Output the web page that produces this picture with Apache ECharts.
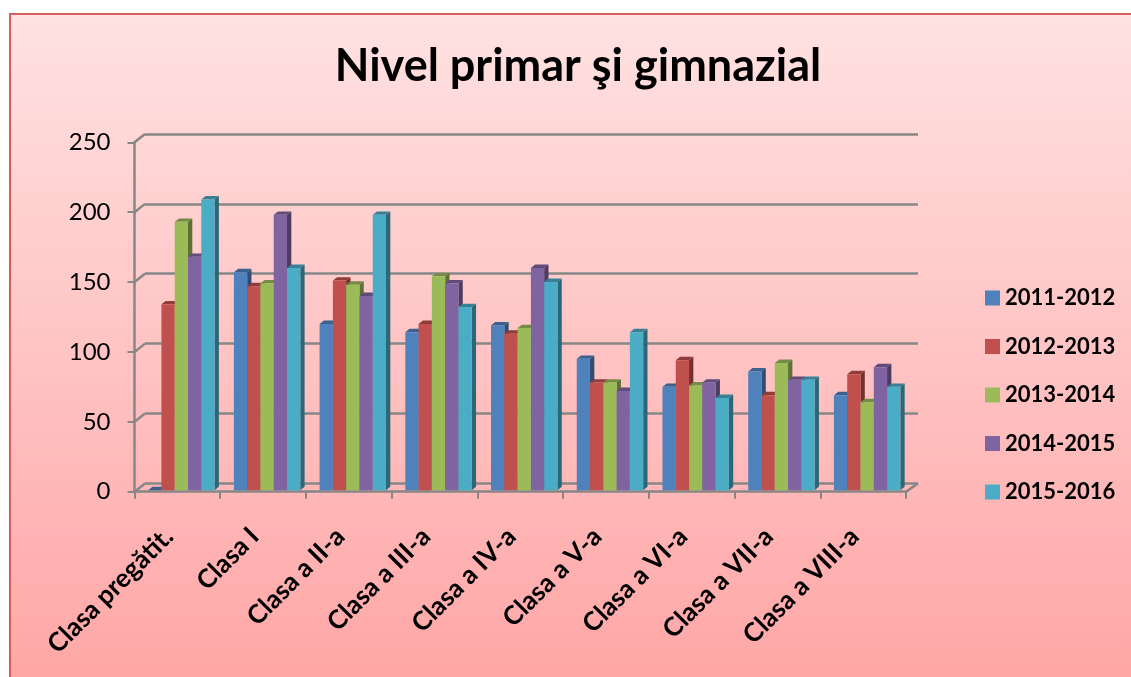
<!DOCTYPE html>
<html>
<head>
<meta charset="utf-8">
<script src="https://cdn.jsdelivr.net/npm/echarts@6/dist/echarts.min.js"></script>
<style>
html,body{margin:0;padding:0;background:#ffffff;}
#c{width:1131px;height:677px;}
</style>
</head>
<body>
<div id="c"></div>
<script>
const categories = ['Clasa pregătit.', 'Clasa I', 'Clasa a II-a', 'Clasa a III-a', 'Clasa a IV-a', 'Clasa a V-a', 'Clasa a VI-a', 'Clasa a VII-a', 'Clasa a VIII-a'];
const seriesNames = ['2011-2012', '2012-2013', '2013-2014', '2014-2015', '2015-2016'];
const s2011 = [0, 156, 119, 113, 118, 94, 74, 85, 68];
const s2012 = [133, 146, 150, 119, 112, 77, 93, 68, 83];
const s2013 = [192, 148, 147, 153, 116, 77, 75, 91, 63];
const s2014 = [167, 197, 139, 148, 159, 71, 77, 79, 88];
const s2015 = [208, 159, 197, 131, 149, 113, 66, 79, 74];
const seriesValues = [s2011, s2012, s2013, s2014, s2015];
const yTicks = [0, 50, 100, 150, 200, 250];
const colors = ['#4F81BD', '#C0504D', '#9BBB59', '#8064A2', '#4BACC6'];

function darken(hex, f) {
  const n = parseInt(hex.slice(1), 16);
  const r = Math.round(((n >> 16) & 255) * f);
  const g = Math.round(((n >> 8) & 255) * f);
  const b = Math.round((n & 255) * f);
  return 'rgb(' + r + ',' + g + ',' + b + ')';
}

const chart = echarts.init(document.getElementById('c'), null, {renderer: 'canvas'});

const GRID_LINE = '#878787';
const DX = 4.3, DY = -3.4;   // bar depth
const WDX = 10.5, WDY = -8.3; // wall depth

function barSeries(k) {
  return {
    type: 'custom',
    name: seriesNames[k],
    xAxisIndex: 0, yAxisIndex: 0,
    itemStyle: {color: colors[k]},
    data: seriesValues[k].map((v, i) => [i, v]),
    encode: {x: 0, y: 1},
    z: 10,
    renderItem: function (params, api) {
      const i = api.value(0), v = api.value(1);
      const base = api.coord([i, 0]);
      const top = api.coord([i, v]);
      const catW = api.size([1, 0])[0];
      const bw = catW * 0.155;
      const x = base[0] - 2.5 * bw + 4 + k * bw;
      const yb = base[1] - 1.5;
      const yt = top[1] - 1.5;
      const c = colors[k];
      const topC = darken(c, 0.75);
      const sideC = darken(c, 0.6);
      return {
        type: 'group',
        children: [
          {type: 'polygon', shape: {points: [[x + bw, yt], [x + bw + DX, yt + DY], [x + bw + DX, yb + DY], [x + bw, yb]]},
           style: {fill: sideC}},
          {type: 'polygon', shape: {points: [[x, yt], [x + bw, yt], [x + bw + DX, yt + DY], [x + DX, yt + DY]]},
           style: {fill: topC}},
          {type: 'rect', shape: {x: x, y: yt, width: bw, height: yb - yt},
           style: {fill: c}}
        ]
      };
    }
  };
}

const option = {
  backgroundColor: 'transparent',
  animation: false,
  graphic: [
    {type: 'rect', z: -10, silent: true,
     shape: {x: 10, y: 14, width: 1140, height: 700},
     style: {
       fill: new echarts.graphic.LinearGradient(0, 0, 0, 1, [
         {offset: 0, color: '#FFE2E2'},
         {offset: 1, color: '#FFA3A3'}
       ]),
       stroke: '#D45F5B', lineWidth: 2
     }},
    {type: 'text', z: 20, x: 578, y: 66,
     style: {text: 'Nivel primar şi gimnazial', font: 'bold 45px Lato', fill: '#000', textAlign: 'center', textVerticalAlign: 'middle'}}
  ],
  legend: {
    orient: 'vertical',
    left: 980, top: 282,
    itemWidth: 15, itemHeight: 15,
    itemGap: 26.5,
    itemTextGap: 7,
    icon: 'rect',
    data: seriesNames,
    textStyle: {fontFamily: 'Lato', fontWeight: 'bold', fontSize: 22, color: '#000', lineHeight: 22}
  },
  grid: [
    {left: 134.5, right: 225, top: 142.3, bottom: 185.3},
    {left: 145, right: 213, top: 134, bottom: 193.7}
  ],
  xAxis: [
    {type: 'category', gridIndex: 0, data: categories, boundaryGap: true,
     axisLine: {show: true, lineStyle: {color: GRID_LINE, width: 2.5}},
     axisTick: {show: true, length: 7, lineStyle: {color: GRID_LINE, width: 2}},
     axisLabel: {rotate: 45, margin: 32, padding: [0, 12, 0, 0], fontFamily: 'Lato', fontWeight: 'bold', fontSize: 26, color: '#000', interval: 0},
     splitLine: {show: false}},
    {type: 'category', gridIndex: 1, data: categories, show: false}
  ],
  yAxis: [
    {type: 'value', gridIndex: 0, min: 0, max: 250, interval: 50,
     axisLine: {show: true, lineStyle: {color: GRID_LINE, width: 2.5}},
     axisTick: {show: true, length: 7, lineStyle: {color: GRID_LINE, width: 2}},
     axisLabel: {margin: 24, fontFamily: 'Lato', fontSize: 24, color: '#000'},
     splitLine: {show: false}},
    {type: 'value', gridIndex: 1, min: 0, max: 250, interval: 50,
     axisLine: {show: false}, axisTick: {show: false}, axisLabel: {show: false},
     splitLine: {show: true, lineStyle: {color: GRID_LINE, width: 2.5}}}
  ],
  series: [
    {
      type: 'custom', name: 'walls', xAxisIndex: 0, yAxisIndex: 0, z: 1, silent: true,
      data: yTicks.map(v => [0, v]),
      encode: {x: 0, y: 1},
      renderItem: function (params, api) {
        const v = api.value(1);
        const p = api.coord([0, v]);
        const catW = api.size([1, 0])[0];
        const left = p[0] - catW / 2;
        const children = [
          {type: 'line', shape: {x1: left, y1: p[1], x2: left + WDX, y2: p[1] + WDY},
           style: {stroke: GRID_LINE, lineWidth: 2.5}}
        ];
        if (v === 0) {
          const right = left + catW * categories.length;
          children.push({type: 'line', shape: {x1: right, y1: p[1], x2: right + 12, y2: p[1] + WDY},
            style: {stroke: GRID_LINE, lineWidth: 2.5}});
        }
        return {type: 'group', children: children};
      }
    },
    barSeries(0), barSeries(1), barSeries(2), barSeries(3), barSeries(4)
  ]
};
chart.setOption(option);
</script>
</body>
</html>
